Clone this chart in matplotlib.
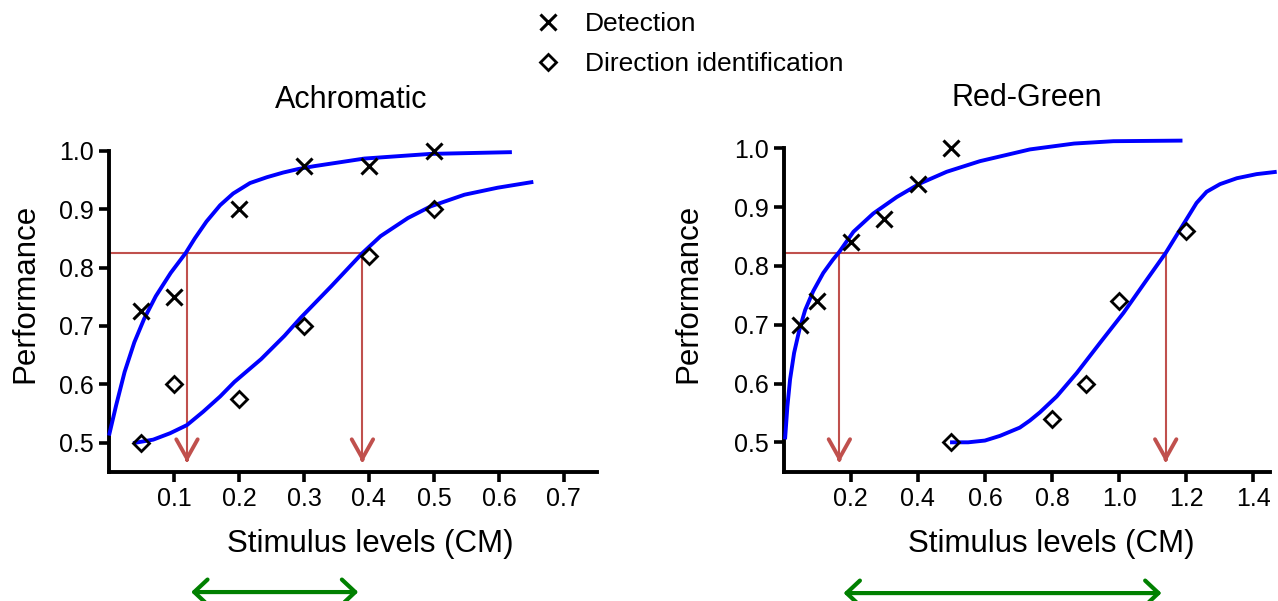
import matplotlib
matplotlib.use("Agg")
import matplotlib.pyplot as plt
from matplotlib.lines import Line2D

plt.rcParams['font.family'] = ['Liberation Sans', 'DejaVu Sans']

# --- Achromatic data ---
ach_levels = [0.05, 0.1, 0.2, 0.3, 0.4, 0.5]
ach_detection = [0.725, 0.75, 0.90, 0.975, 0.975, 1.0]
ach_direction = [0.50, 0.60, 0.575, 0.70, 0.82, 0.90]

# fitted curves
ach_det_fit_x = [0.0, 0.011, 0.024, 0.039, 0.054, 0.072, 0.095, 0.118, 0.132, 0.150,
                 0.171, 0.191, 0.217, 0.243, 0.268, 0.291, 0.316, 0.393, 0.495, 0.62]
ach_det_fit_y = [0.512, 0.564, 0.621, 0.672, 0.712, 0.751, 0.791, 0.825, 0.850, 0.879,
                 0.907, 0.927, 0.945, 0.955, 0.963, 0.969, 0.974, 0.987, 0.995, 0.998]
ach_dir_fit_x = [0.037, 0.068, 0.094, 0.12, 0.145, 0.171, 0.193, 0.234, 0.27, 0.295,
                 0.342, 0.39, 0.418, 0.46, 0.495, 0.547, 0.598, 0.653]
ach_dir_fit_y = [0.499, 0.505, 0.516, 0.530, 0.553, 0.579, 0.604, 0.643, 0.683, 0.714,
                 0.768, 0.825, 0.854, 0.885, 0.905, 0.925, 0.937, 0.947]
ach_thresholds = [0.12, 0.39]
ach_criterion = 0.825

# --- Red-Green data ---
rg_det_levels = [0.05, 0.1, 0.2, 0.3, 0.4, 0.5]
rg_detection = [0.70, 0.74, 0.84, 0.88, 0.94, 1.0]
rg_dir_levels = [0.5, 0.8, 0.9, 1.0, 1.2]
rg_direction = [0.50, 0.54, 0.60, 0.74, 0.86]

rg_det_fit_x = [0.004, 0.011, 0.019, 0.031, 0.047, 0.064, 0.088, 0.118, 0.146, 0.166,
                0.208, 0.267, 0.337, 0.406, 0.486, 0.585, 0.734, 0.866, 0.983, 1.189]
rg_det_fit_y = [0.505, 0.561, 0.607, 0.652, 0.692, 0.725, 0.757, 0.788, 0.810, 0.824,
                0.858, 0.889, 0.917, 0.940, 0.960, 0.978, 0.998, 1.008, 1.012, 1.013]
rg_dir_fit_x = [0.496, 0.55, 0.6, 0.645, 0.704, 0.734, 0.764, 0.814, 0.874, 0.943,
                1.013, 1.082, 1.139, 1.191, 1.231, 1.261, 1.301, 1.351, 1.41, 1.47]
rg_dir_fit_y = [0.500, 0.500, 0.503, 0.511, 0.525, 0.537, 0.551, 0.578, 0.618, 0.669,
                0.720, 0.776, 0.822, 0.870, 0.907, 0.926, 0.939, 0.949, 0.956, 0.960]
rg_thresholds = [0.166, 1.139]
rg_criterion = 0.822

ach_xticks = [0.1, 0.2, 0.3, 0.4, 0.5, 0.6, 0.7]
rg_xticks = [0.2, 0.4, 0.6, 0.8, 1.0, 1.2, 1.4]
yticks = [0.5, 0.6, 0.7, 0.8, 0.9, 1.0]

BLUE = '#0000ff'
RED = '#c0504d'
GREEN = '#008000'

fig = plt.figure(figsize=(12.78, 6.01), dpi=100)
ax1 = fig.add_axes([109 / 1278, 0.2151, 488 / 1278, 0.5531])
ax2 = fig.add_axes([783.7 / 1278, 0.2151, 486.3 / 1278, 0.5578])


def style_axis(ax, xlim, xticks, title, xlab_pos, ylab_pos, title_pos):
    ax.set_xlim(*xlim)
    ax.set_ylim(0.45, 1.02)
    ax.set_xticks(xticks)
    ax.set_xticklabels([f'{t:.1f}' for t in xticks])
    ax.set_yticks(yticks)
    ax.set_yticklabels([f'{t:.1f}' for t in yticks])
    for s in ['top', 'right']:
        ax.spines[s].set_visible(False)
    ax.spines['left'].set_linewidth(2.8)
    ax.spines['bottom'].set_linewidth(2.8)
    ax.spines['left'].set_bounds(0.45, 1.0)
    ax.tick_params(width=2.6, length=7, labelsize=18, pad=4)
    ax.set_xlabel('Stimulus levels (CM)', fontsize=22.5, va='baseline')
    ax.xaxis.set_label_coords(*xlab_pos)
    ax.set_ylabel('Performance', fontsize=22.5, va='center', ha='center')
    ax.yaxis.set_label_coords(*ylab_pos)
    ax.text(title_pos[0], title_pos[1], title, transform=ax.transAxes,
            fontsize=22, ha='center', va='baseline')
    ax.patch.set_alpha(0)


def draw_panel(ax, det_x, det_y, dir_x, dir_y, dfx, dfy, rfx, rfy, thr, crit):
    ax.plot(dfx, dfy, color=BLUE, lw=2.8, solid_capstyle='butt', zorder=3, clip_on=False)
    ax.plot(rfx, rfy, color=BLUE, lw=2.8, solid_capstyle='butt', zorder=3, clip_on=False)
    ax.plot(det_x, det_y, 'x', color='black', ms=12, mew=2.2, zorder=4)
    ax.plot(dir_x, dir_y, 'D', mfc='none', mec='black', ms=8.5, mew=2, zorder=4)
    # criterion line + threshold arrows
    tip = 0.466
    ax.plot([0, thr[1]], [crit, crit], color=RED, lw=1.5, zorder=2)
    for t in thr:
        ax.plot([t, t], [crit, tip + 0.004], color=RED, lw=1.5, zorder=2)
        ax.annotate('', xy=(t, tip), xytext=(t, tip + 0.006),
                    arrowprops=dict(arrowstyle='->,head_length=1.25,head_width=0.7',
                                    color=RED, lw=2.8, shrinkA=0, shrinkB=0,
                                    mutation_scale=11), zorder=2)
    # green range arrow below the axis
    ax.annotate('', xy=(thr[1], -0.362), xytext=(thr[0], -0.362),
                xycoords=ax.get_xaxis_transform(), textcoords=ax.get_xaxis_transform(),
                annotation_clip=False,
                arrowprops=dict(arrowstyle='<->,head_length=0.8,head_width=0.75',
                                color=GREEN, lw=3, shrinkA=3, shrinkB=3,
                                mutation_scale=12))


style_axis(ax1, (0, 0.751), ach_xticks, 'Achromatic',
           (0.535, -0.2416), (-0.172, 0.5376), (0.496, 1.094))
draw_panel(ax1, ach_levels, ach_detection, ach_levels, ach_direction,
           ach_det_fit_x, ach_det_fit_y, ach_dir_fit_x, ach_dir_fit_y,
           ach_thresholds, ach_criterion)

style_axis(ax2, (0, 1.45), rg_xticks, 'Red-Green',
           (0.551, -0.2396), (-0.1956, 0.533), (0.5, 1.091))
draw_panel(ax2, rg_det_levels, rg_detection, rg_dir_levels, rg_direction,
           rg_det_fit_x, rg_det_fit_y, rg_dir_fit_x, rg_dir_fit_y,
           rg_thresholds, rg_criterion)

handles = [
    Line2D([], [], ls='none', marker='x', color='black', ms=11, mew=2.2),
    Line2D([], [], ls='none', marker='D', mfc='none', mec='black', ms=8, mew=2),
]
fig.legend(handles, ['Detection', 'Direction identification'], loc='upper left',
           bbox_to_anchor=(535 / 1278, 1 - 12 / 601), frameon=False, fontsize=19,
           handlelength=1.0, handletextpad=0.9, labelspacing=0.6,
           borderpad=0, borderaxespad=0)

fig.savefig('out.png', dpi=100)
